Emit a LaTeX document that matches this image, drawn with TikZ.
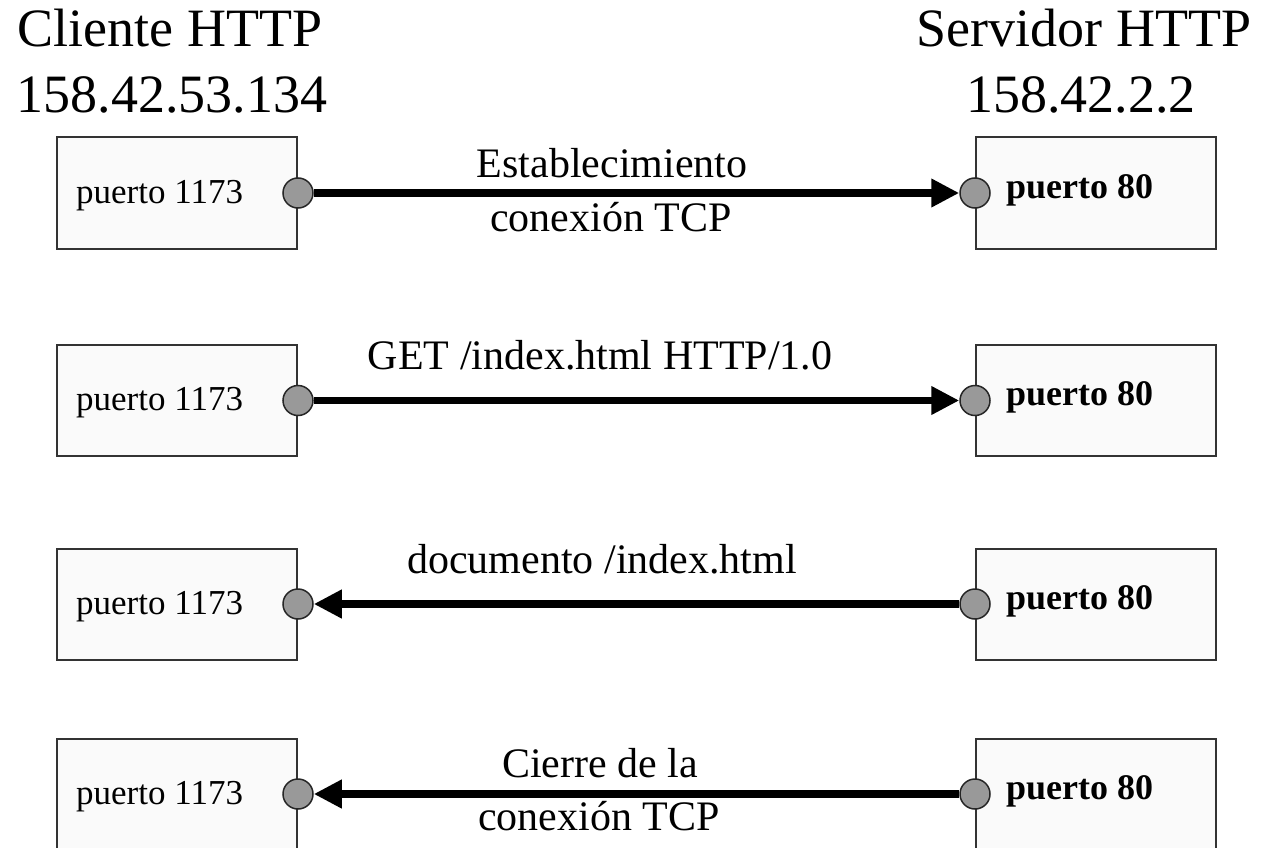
\documentclass[tikz,border=0pt]{standalone}
\usepackage{fontspec}
\setmainfont{Liberation Serif}
\usetikzlibrary{arrows.meta}
\begin{document}
\begin{tikzpicture}[x=1pt,y=-1pt,
  box/.style={draw=black!80, line width=2pt, fill=white!98!black, minimum width=240pt, minimum height=111pt, inner sep=0pt},
  port/.style={circle, draw=black!85, line width=1.5pt, fill=black!40, minimum size=30pt, inner sep=0pt},
  msg/.style={line width=7.5pt, -{Triangle[length=28pt,width=27pt]}},
  lbl/.style={font=\fontsize{42}{48}\selectfont, inner sep=0pt, anchor=base},
  ttl/.style={font=\fontsize{54}{64}\selectfont, inner sep=0pt, anchor=base},
  ptxt/.style={font=\fontsize{35}{40}\selectfont, inner sep=0pt, anchor=base west},
  pbtxt/.style={font=\fontsize{36}{40}\selectfont\bfseries, inner sep=0pt, anchor=base west}
]
\useasboundingbox (0,0) rectangle (1261,848);

% titles
\node[ttl] (tc1) at (170,47) {Cliente HTTP};
\node[ttl] (tc2) at (172,113) {158.42.53.134};
\node[ttl] (ts1) at (1084,47) {Servidor HTTP};
\node[ttl] (ts2) at (1081,113) {158.42.2.2};

% rows
\foreach \i/\cy in {1/193,2/400.5,3/604,4/794}{
  \node[box] (L\i) at (177,\cy) {};
  \node[box] (R\i) at (1096,\cy) {};
  \node[ptxt] (LT\i) at (76,\cy+10) {puerto 1173};
  \node[pbtxt] (RT\i) at (1006,\cy+5) {puerto 80};
  \node[port] (LP\i) at (L\i.east) {};
  \node[port] (RP\i) at (R\i.west) {};
}

\draw[msg] (LP1) -- (RP1);
\draw[msg] (LP2) -- (RP2);
\draw[msg] (RP3) -- (LP3);
\draw[msg] (RP4) -- (LP4);

% labels
\node[lbl] (m1a) at (612,177) {Establecimiento};
\node[lbl] (m1b) at (611,231) {conexión TCP};
\node[lbl] (m2) at (600,369) {GET /index.html HTTP/1.0};
\node[lbl] (m3) at (602,573) {documento /index.html};
\node[lbl] (m4a) at (600,777) {Cierre de la};
\node[lbl] (m4b) at (599,830) {conexión TCP};
\end{tikzpicture}
\end{document}
